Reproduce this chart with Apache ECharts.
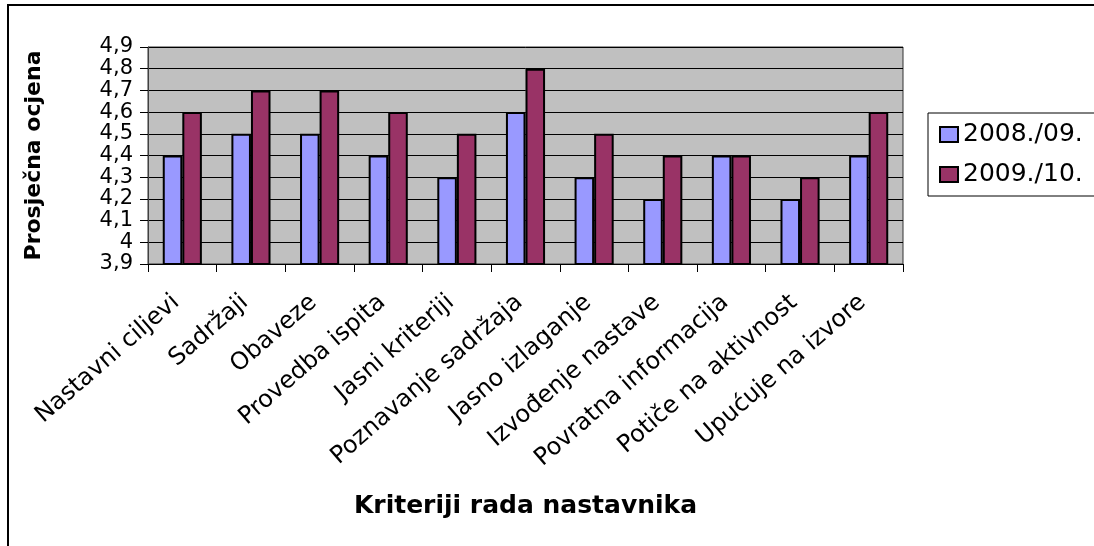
<!DOCTYPE html>
<html>
<head>
<meta charset="utf-8">
<script src="https://cdn.jsdelivr.net/npm/echarts@6/dist/echarts.min.js"></script>
<style>
html,body{margin:0;padding:0;background:#fff;}
#chart{width:1094px;height:546px;}
</style>
</head>
<body>
<div id="chart"></div>
<script>
var categories = ["Nastavni ciljevi","Sadržaji","Obaveze","Provedba ispita","Jasni kriteriji","Poznavanje sadržaja","Jasno izlaganje","Izvođenje nastave","Povratna informacija","Potiče na aktivnost","Upućuje na izvore"];
var seriesNames = ["2008./09.","2009./10."];
var values0809 = [4.4,4.5,4.5,4.4,4.3,4.6,4.3,4.2,4.4,4.2,4.4];
var values0910 = [4.6,4.7,4.7,4.6,4.5,4.8,4.5,4.4,4.4,4.3,4.6];
var yMin = 3.9, yMax = 4.9, yStep = 0.1;
var yTitle = "Prosječna ocjena";
var xTitle = "Kriteriji rada nastavnika";

var FONT = "DejaVu Sans";
var chart = echarts.init(document.getElementById('chart'), null, {renderer:'canvas'});
var option = {
  animation:false,
  backgroundColor:'#ffffff',
  textStyle:{fontFamily:FONT,color:'#000'},
  graphic:[{
    type:'rect', silent:true, z:-1,
    shape:{x:8,y:5,width:1300,height:700},
    style:{fill:'none',stroke:'#000',lineWidth:2}
  }],
  grid:{left:148,right:191,top:47,bottom:282,show:true,backgroundColor:'#c0c0c0',borderColor:'#333',borderWidth:1},
  legend:{
    orient:'vertical', left:928, top:113,
    padding:[9,12,9,11], itemGap:15,
    itemWidth:18, itemHeight:15,
    borderColor:'#000', borderWidth:1, backgroundColor:'#fff',
    icon:'rect',
    textStyle:{fontFamily:FONT,fontSize:25,color:'#000'},
    data:seriesNames
  },
  xAxis:{
    type:'category', data:categories,
    axisLine:{show:true,lineStyle:{color:'#000',width:1}},
    axisTick:{show:true,length:8,lineStyle:{color:'#000'}},
    axisLabel:{rotate:41,margin:30,fontFamily:FONT,fontSize:24,color:'#000',interval:0,padding:[0,8,0,0]},
    name:xTitle, nameLocation:'middle', nameGap:230,
    nameTextStyle:{fontFamily:FONT,fontSize:25,fontWeight:'bold',color:'#000'}
  },
  yAxis:{
    type:'value', min:yMin, max:yMax, interval:yStep,
    axisLine:{show:true,lineStyle:{color:'#404040',width:1}},
    axisTick:{show:true,length:8,inside:false,lineStyle:{color:'#000'}},
    splitLine:{show:true,lineStyle:{color:'#000',width:1}},
    axisLabel:{margin:15,fontFamily:FONT,fontSize:21,color:'#000',showMinLabel:true,showMaxLabel:true,hideOverlap:false,
      formatter:function(v){return String(+(+v).toFixed(1)).replace('.',',');}},
    name:yTitle, nameLocation:'middle', nameGap:103,
    nameTextStyle:{fontFamily:FONT,fontSize:22,fontWeight:'bold',color:'#000'}
  },
  series:[
    {name:seriesNames[0],type:'bar',data:values0809,barGap:'0%',barCategoryGap:'43%',
     itemStyle:{color:'#9999ff',borderColor:'#000',borderWidth:2}},
    {name:seriesNames[1],type:'bar',data:values0910,barGap:'0%',barCategoryGap:'43%',
     itemStyle:{color:'#993366',borderColor:'#000',borderWidth:2}}
  ]
};
chart.setOption(option);
</script>
</body>
</html>
